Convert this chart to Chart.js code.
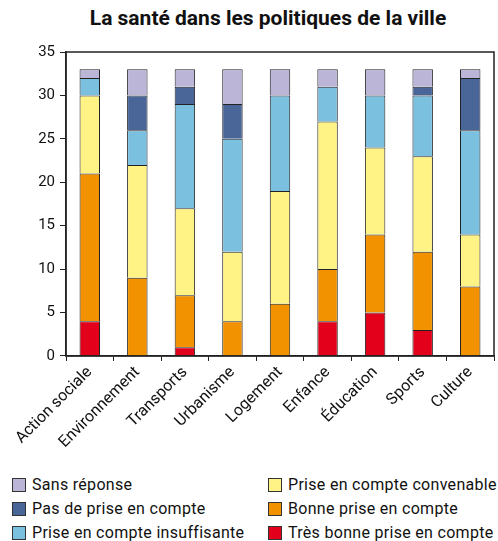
<!DOCTYPE html>
<html>
<head>
<meta charset="utf-8">
<script src="https://cdn.jsdelivr.net/npm/chart.js@4.4.1/dist/chart.umd.min.js"></script>
<style>
  body { margin: 0; background: #fff; font-family: Roboto, sans-serif; }
  #wrap { position: relative; width: 498px; height: 541px; }
  #title { position: absolute; top: 6px; left: 0; width: 536px; text-align: center; font-weight: bold; font-size: 21px; color: #111; }
  #box { position: absolute; top: 0; left: 0; width: 498px; height: 454px; }
  .leg { position: absolute; font-size: 16px; line-height: 16px; color: #111; display: flex; align-items: center; white-space: nowrap; letter-spacing: 0.3px; }
  .leg span { display: inline-block; width: 12px; height: 12px; border: 1px solid #333; margin-right: 6px; }
</style>
</head>
<body>
<div id="wrap">
  <div id="title">La santé dans les politiques de la ville</div>
  <div id="box"><canvas id="chart"></canvas></div>
  <div id="legend"></div>
</div>
<script>
// Data
const categories = ['Action sociale', 'Environnement', 'Transports', 'Urbanisme', 'Logement', 'Enfance', 'Éducation', 'Sports', 'Culture'];
const tresBonne   = [4, 0, 1, 0, 0, 4, 5, 3, 0];
const bonne       = [17, 9, 6, 4, 6, 6, 9, 9, 8];
const convenable  = [9, 13, 10, 8, 13, 17, 10, 11, 6];
const insuffisante = [2, 4, 12, 13, 11, 4, 6, 7, 12];
const pasPrise    = [0, 4, 2, 4, 0, 0, 0, 1, 6];
const sansReponse = [1, 3, 2, 4, 3, 2, 3, 2, 1];
const yTicks = [0, 5, 10, 15, 20, 25, 30, 35];

const series = [
    { label: 'Très bonne prise en compte', data: tresBonne, color: '#e2001a' },
    { label: 'Bonne prise en compte', data: bonne, color: '#f39200' },
    { label: 'Prise en compte convenable', data: convenable, color: '#fff385' },
    { label: 'Prise en compte insuffisante', data: insuffisante, color: '#7bc1df' },
    { label: 'Pas de prise en compte', data: pasPrise, color: '#4a6699' },
    { label: 'Sans réponse', data: sansReponse, color: '#bbb5d8' }
];

// legend, two columns like the original
const legendOrder = [
    [5, 12, 477], [4, 12, 501], [3, 12, 525],
    [2, 268, 477], [1, 268, 501], [0, 268, 525]
];
const legendEl = document.getElementById('legend');
legendOrder.forEach(([i, x, y]) => {
    const d = document.createElement('div');
    d.className = 'leg';
    d.style.left = x + 'px';
    d.style.top = y + 'px';
    d.innerHTML = '<span style="background:' + series[i].color + '"></span>' + series[i].label;
    legendEl.appendChild(d);
});

// frame around the plot area
const frame = {
    id: 'frame',
    afterDraw(chart) {
        const a = chart.chartArea, c = chart.ctx;
        c.save();
        c.strokeStyle = '#222';
        c.lineWidth = 1.5;
        c.strokeRect(a.left, a.top, a.right - a.left, a.bottom - a.top);
        c.restore();
    }
};

new Chart(document.getElementById('chart'), {
    type: 'bar',
    data: {
        labels: categories,
        datasets: series.map(s => ({
            label: s.label,
            data: s.data,
            backgroundColor: s.color,
            borderColor: '#222',
            // no outline for empty segments
            borderWidth: c => (c.raw === 0 ? 0 : 1),
            barPercentage: 0.43,
            categoryPercentage: 1
        }))
    },
    options: {
        responsive: true,
        maintainAspectRatio: false,
        animation: false,
        layout: { padding: { top: 52, right: 4, left: 12 } },
        plugins: {
            legend: { display: false },
            title: { display: false },
            tooltip: { enabled: false }
        },
        scales: {
            x: {
                stacked: true,
                grid: { display: true, drawOnChartArea: false, drawTicks: true, tickLength: 5, color: '#222', offset: true },
                border: { color: '#222', width: 1.5 },
                ticks: { color: '#111', font: { family: 'Roboto', size: 16 }, maxRotation: 45, minRotation: 45, padding: 2 }
            },
            y: {
                stacked: true,
                min: 0,
                max: 35,
                afterBuildTicks: axis => { axis.ticks = yTicks.map(v => ({ value: v })); },
                afterFit: axis => { axis.width = 54; },
                grid: { display: true, drawOnChartArea: false, drawTicks: true, tickLength: 6, color: '#222' },
                border: { color: '#222', width: 1.5 },
                ticks: { color: '#111', font: { family: 'Roboto', size: 15 }, padding: 5 }
            }
        }
    },
    plugins: [frame]
});
</script>
</body>
</html>
